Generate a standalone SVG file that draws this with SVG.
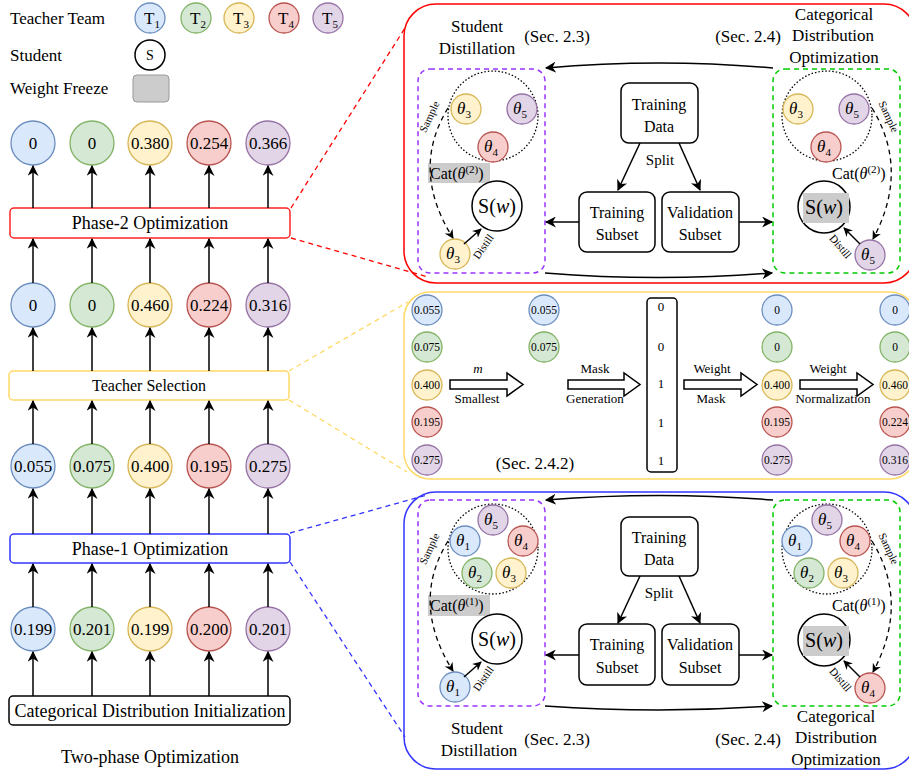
<svg xmlns="http://www.w3.org/2000/svg" width="909" height="772" viewBox="0 0 909 772">
<defs>
<marker id="ah" viewBox="0 0 10 10" refX="9" refY="5" markerWidth="11" markerHeight="11" markerUnits="userSpaceOnUse" orient="auto"><path d="M0,0 L10,5 L0,10 L3,5 Z" fill="#000"/></marker>
<marker id="ahs" viewBox="0 0 10 10" refX="9" refY="5" markerWidth="9" markerHeight="9" markerUnits="userSpaceOnUse" orient="auto"><path d="M0,0 L10,5 L0,10 L3,5 Z" fill="#000"/></marker>
</defs>
<style>
text{font-family:"Liberation Serif","Times New Roman",serif;fill:#000}
.c{text-anchor:middle}
.f17{font-size:17px}
.f18{font-size:18px}
.f16{font-size:16px}
.f15{font-size:15px}
.f13{font-size:13px}
.f12{font-size:11.5px}
.f10{font-size:11px}
.it{font-style:italic}
.b{fill:#dae8fc;stroke:#6c8ebf;stroke-width:1.3}
.g{fill:#d5e8d4;stroke:#82b366;stroke-width:1.3}
.y{fill:#fff2cc;stroke:#d6b656;stroke-width:1.3}
.r{fill:#f8cecc;stroke:#b85450;stroke-width:1.3}
.p{fill:#e1d5e7;stroke:#9673a6;stroke-width:1.3}
.ln{fill:none;stroke:#000;stroke-width:1.5;marker-end:url(#ah)}
.lns{fill:none;stroke:#000;stroke-width:1.5;marker-end:url(#ahs)}
.dsh{fill:none;stroke:#000;stroke-width:1.3;stroke-dasharray:5,4;marker-end:url(#ahs)}
.box{fill:#fff;stroke:#000;stroke-width:1.5}
.dot{fill:none;stroke:#000;stroke-width:1.3;stroke-dasharray:1.5,2}
.pur{fill:none;stroke:#9933ff;stroke-width:1.5;stroke-dasharray:5,4}
.grn{fill:none;stroke:#00cc00;stroke-width:1.5;stroke-dasharray:5,4}
.sw{fill:#fff;stroke:#000;stroke-width:1.5}
.gr{fill:#cccccc;stroke:none}
.cat{font-size:16px}
</style>

<!-- Legend -->
<g id="legend">
<text x="10" y="24" class="f17">Teacher Team</text>
<text x="10" y="61" class="f17">Student</text>
<text x="10" y="94" class="f17">Weight Freeze</text>
<circle cx="150" cy="18" r="15" class="b"/><text x="152" y="24" class="f17 c">T<tspan font-size="11" dy="4">1</tspan></text>
<circle cx="196" cy="18" r="15" class="g"/><text x="198" y="24" class="f17 c">T<tspan font-size="11" dy="4">2</tspan></text>
<circle cx="239" cy="18" r="15" class="y"/><text x="241" y="24" class="f17 c">T<tspan font-size="11" dy="4">3</tspan></text>
<circle cx="284" cy="18" r="15" class="r"/><text x="286" y="24" class="f17 c">T<tspan font-size="11" dy="4">4</tspan></text>
<circle cx="328" cy="18" r="15" class="p"/><text x="330" y="24" class="f17 c">T<tspan font-size="11" dy="4">5</tspan></text>
<circle cx="150" cy="55" r="15" fill="#fff" stroke="#000" stroke-width="1.5"/><text x="150" y="60" font-size="14" class="c">S</text>
<rect x="133" y="75" width="36" height="27" rx="4" fill="#cccccc" stroke="#999" stroke-width="1"/>
</g>

<!-- Left column boxes -->
<g id="phase2"><rect x="10" y="208" width="280" height="30" rx="4" fill="#fff" stroke="#ff2222" stroke-width="1.5"/><text x="150" y="229" class="f18 c">Phase-2 Optimization</text></g>
<g id="teacher-selection"><rect x="9" y="371" width="280" height="29" rx="4" fill="#fff" stroke="#ffd966" stroke-width="1.5"/><text x="149" y="391" class="f16 c">Teacher Selection</text></g>
<g id="phase1"><rect x="10" y="534" width="280" height="29" rx="4" fill="#fff" stroke="#3333ff" stroke-width="1.5"/><text x="150" y="555" class="f18 c">Phase-1 Optimization</text></g>
<g id="init"><rect x="9" y="696" width="281" height="29" rx="4" class="box"/><text x="150" y="717" class="f18 c">Categorical Distribution Initialization</text></g>
<text x="150" y="763" class="f18 c">Two-phase Optimization</text>

<!-- Left column circles -->
<g id="row-final">
<circle cx="33" cy="143" r="22" class="b"/><text x="33" y="149" class="f17 c">0</text>
<circle cx="92" cy="143" r="22" class="g"/><text x="92" y="149" class="f17 c">0</text>
<circle cx="150" cy="143" r="22" class="y"/><text x="150" y="149" class="f17 c">0.380</text>
<circle cx="209" cy="143" r="22" class="r"/><text x="209" y="149" class="f17 c">0.254</text>
<circle cx="268" cy="143" r="22" class="p"/><text x="268" y="149" class="f17 c">0.366</text>
</g>
<g id="row-selected">
<circle cx="33" cy="305" r="22" class="b"/><text x="33" y="311" class="f17 c">0</text>
<circle cx="92" cy="305" r="22" class="g"/><text x="92" y="311" class="f17 c">0</text>
<circle cx="150" cy="305" r="22" class="y"/><text x="150" y="311" class="f17 c">0.460</text>
<circle cx="209" cy="305" r="22" class="r"/><text x="209" y="311" class="f17 c">0.224</text>
<circle cx="268" cy="305" r="22" class="p"/><text x="268" y="311" class="f17 c">0.316</text>
</g>
<g id="row-phase1">
<circle cx="33" cy="466" r="22" class="b"/><text x="33" y="472" class="f17 c">0.055</text>
<circle cx="92" cy="466" r="22" class="g"/><text x="92" y="472" class="f17 c">0.075</text>
<circle cx="150" cy="466" r="22" class="y"/><text x="150" y="472" class="f17 c">0.400</text>
<circle cx="209" cy="466" r="22" class="r"/><text x="209" y="472" class="f17 c">0.195</text>
<circle cx="268" cy="466" r="22" class="p"/><text x="268" y="472" class="f17 c">0.275</text>
</g>
<g id="row-init">
<circle cx="33" cy="629" r="22" class="b"/><text x="33" y="635" class="f17 c">0.199</text>
<circle cx="92" cy="629" r="22" class="g"/><text x="92" y="635" class="f17 c">0.201</text>
<circle cx="150" cy="629" r="22" class="y"/><text x="150" y="635" class="f17 c">0.199</text>
<circle cx="209" cy="629" r="22" class="r"/><text x="209" y="635" class="f17 c">0.200</text>
<circle cx="268" cy="629" r="22" class="p"/><text x="268" y="635" class="f17 c">0.201</text>
</g>

<!-- Panels -->
<g id="panel-phase2">
<rect x="404" y="4" width="512" height="279" rx="32" fill="none" stroke="#ff0000" stroke-width="1.5"/>
<text x="477" y="32" class="f17 c">Student</text>
<text x="477" y="54" class="f17 c">Distillation</text>
<text x="557" y="42" class="f17 c">(Sec. 2.3)</text>
<text x="748" y="42" class="f17 c">(Sec. 2.4)</text>
<text x="834" y="20" class="f17 c">Categorical</text>
<text x="833" y="41" class="f17 c">Distribution</text>
<text x="834" y="63" class="f17 c">Optimization</text>
</g>
<g id="p2-student" >
<rect x="418" y="69" width="127" height="204" rx="12" class="pur"/>
<circle cx="493" cy="116" r="45" class="dot"/>
<circle cx="466" cy="109" r="15" class="y"/><text x="464" y="114" class="f17 c it">θ<tspan font-size="11" font-style="normal" dy="4">3</tspan></text>
<circle cx="522" cy="109" r="15" class="p"/><text x="520" y="114" class="f17 c it">θ<tspan font-size="11" font-style="normal" dy="4">5</tspan></text>
<circle cx="493" cy="147" r="15" class="r"/><text x="491" y="152" class="f17 c it">θ<tspan font-size="11" font-style="normal" dy="4">4</tspan></text>
<rect x="428" y="163" width="62" height="20" class="gr"/>
<text x="430" y="179" class="cat">Cat(<tspan class="it">θ</tspan><tspan font-size="11" dy="-6">(2)</tspan><tspan dy="6">)</tspan></text>
<circle cx="497" cy="206" r="25" class="sw"/><text x="497" y="213" font-size="20" class="c">S(<tspan class="it">w</tspan>)</text>
<circle cx="455" cy="254" r="15" class="y"/><text x="453" y="259" class="f17 c it">θ<tspan font-size="11" font-style="normal" dy="4">3</tspan></text>
<text x="430" y="120" class="f10 c" transform="rotate(-65 430 117)">Sample</text>
<text x="484" y="250" class="f10 c" transform="rotate(-55 484 247)">Distill</text>
</g>
<g id="p2-data">
<rect x="621" y="83" width="77" height="60" rx="8" class="box"/><text x="659" y="110" class="f16 c">Training</text><text x="659" y="132" class="f16 c">Data</text>
<rect x="579" y="192" width="76" height="60" rx="8" class="box"/><text x="617" y="218" class="f16 c">Training</text><text x="617" y="240" class="f16 c">Subset</text>
<rect x="662" y="192" width="77" height="60" rx="8" class="box"/><text x="700" y="218" class="f16 c">Validation</text><text x="700" y="240" class="f16 c">Subset</text>
<text x="660" y="165" class="f15 c">Split</text>
</g>
<g id="p2-cat">
<rect x="773" y="69" width="127" height="204" rx="12" class="grn"/>
<circle cx="827" cy="116" r="45" class="dot"/>
<circle cx="798" cy="109" r="15" class="y"/><text x="796" y="114" class="f17 c it">θ<tspan font-size="11" font-style="normal" dy="4">3</tspan></text>
<circle cx="854" cy="109" r="15" class="p"/><text x="852" y="114" class="f17 c it">θ<tspan font-size="11" font-style="normal" dy="4">5</tspan></text>
<circle cx="826" cy="147" r="15" class="r"/><text x="824" y="152" class="f17 c it">θ<tspan font-size="11" font-style="normal" dy="4">4</tspan></text>
<text x="832" y="179" class="cat">Cat(<tspan class="it">θ</tspan><tspan font-size="11" dy="-6">(2)</tspan><tspan dy="6">)</tspan></text>
<circle cx="824" cy="207" r="26" class="sw"/><rect x="803" y="193" width="46" height="30" class="gr"/><text x="824" y="214" font-size="20" class="c">S(<tspan class="it">w</tspan>)</text>
<circle cx="870" cy="255" r="15" class="p"/><text x="868" y="260" class="f17 c it">θ<tspan font-size="11" font-style="normal" dy="4">5</tspan></text>
<text x="888" y="120" class="f10 c" transform="rotate(65 888 117)">Sample</text>
<text x="840" y="250" class="f10 c" transform="rotate(50 840 247)">Distill</text>
</g>

<g id="panel-selection">
<rect x="404" y="292" width="512" height="187" rx="26" fill="none" stroke="#ffd966" stroke-width="1.5"/>
<text x="535" y="469" class="f17 c">(Sec. 2.4.2)</text>
</g>
<g id="sel-col1">
<circle cx="427" cy="310" r="15" class="b"/><text x="427" y="314" class="f12 c">0.055</text>
<circle cx="427" cy="347" r="15" class="g"/><text x="427" y="351" class="f12 c">0.075</text>
<circle cx="427" cy="385" r="15" class="y"/><text x="427" y="389" class="f12 c">0.400</text>
<circle cx="427" cy="422" r="15" class="r"/><text x="427" y="426" class="f12 c">0.195</text>
<circle cx="427" cy="460" r="15" class="p"/><text x="427" y="464" class="f12 c">0.275</text>
</g>
<g id="sel-col2">
<circle cx="544" cy="310" r="15" class="b"/><text x="544" y="314" class="f12 c">0.055</text>
<circle cx="544" cy="347" r="15" class="g"/><text x="544" y="351" class="f12 c">0.075</text>
</g>
<g id="sel-mask">
<rect x="647" y="298" width="30" height="174" rx="4" class="box"/>
<text x="661" y="311" class="f13 c">0</text>
<text x="661" y="351" class="f13 c">0</text>
<text x="661" y="388" class="f13 c">1</text>
<text x="661" y="427" class="f13 c">1</text>
<text x="661" y="465" class="f13 c">1</text>
</g>
<g id="sel-col4">
<circle cx="777" cy="310" r="15" class="b"/><text x="777" y="314" class="f12 c">0</text>
<circle cx="777" cy="347" r="15" class="g"/><text x="777" y="351" class="f12 c">0</text>
<circle cx="777" cy="385" r="15" class="y"/><text x="777" y="389" class="f12 c">0.400</text>
<circle cx="777" cy="422" r="15" class="r"/><text x="777" y="426" class="f12 c">0.195</text>
<circle cx="777" cy="460" r="15" class="p"/><text x="777" y="464" class="f12 c">0.275</text>
</g>
<g id="sel-col5">
<circle cx="895" cy="310" r="15" class="b"/><text x="895" y="314" class="f12 c">0</text>
<circle cx="895" cy="347" r="15" class="g"/><text x="895" y="351" class="f12 c">0</text>
<circle cx="895" cy="385" r="15" class="y"/><text x="895" y="389" class="f12 c">0.460</text>
<circle cx="895" cy="422" r="15" class="r"/><text x="895" y="426" class="f12 c">0.224</text>
<circle cx="895" cy="460" r="15" class="p"/><text x="895" y="464" class="f12 c">0.316</text>
</g>

<g id="panel-phase1">
<rect x="404" y="492" width="512" height="277" rx="32" fill="none" stroke="#3333ff" stroke-width="1.5"/>
<text x="477" y="734" class="f17 c">Student</text>
<text x="479" y="756" class="f17 c">Distillation</text>
<text x="557" y="745" class="f17 c">(Sec. 2.3)</text>
<text x="748" y="745" class="f17 c">(Sec. 2.4)</text>
<text x="836" y="722" class="f17 c">Categorical</text>
<text x="836" y="743" class="f17 c">Distribution</text>
<text x="836" y="765" class="f17 c">Optimization</text>
</g>
<g id="p1-student">
<rect x="418" y="500" width="127" height="206" rx="12" class="pur"/>
<circle cx="493" cy="549" r="45" class="dot"/>
<circle cx="493" cy="520" r="15" class="p"/><text x="491" y="525" class="f17 c it">θ<tspan font-size="11" font-style="normal" dy="4">5</tspan></text>
<circle cx="465" cy="541" r="15" class="b"/><text x="463" y="546" class="f17 c it">θ<tspan font-size="11" font-style="normal" dy="4">1</tspan></text>
<circle cx="523" cy="541" r="15" class="r"/><text x="521" y="546" class="f17 c it">θ<tspan font-size="11" font-style="normal" dy="4">4</tspan></text>
<circle cx="477" cy="573" r="15" class="g"/><text x="475" y="578" class="f17 c it">θ<tspan font-size="11" font-style="normal" dy="4">2</tspan></text>
<circle cx="511" cy="573" r="15" class="y"/><text x="509" y="578" class="f17 c it">θ<tspan font-size="11" font-style="normal" dy="4">3</tspan></text>
<rect x="428" y="595" width="62" height="21" class="gr"/>
<text x="430" y="611" class="cat">Cat(<tspan class="it">θ</tspan><tspan font-size="11" dy="-6">(1)</tspan><tspan dy="6">)</tspan></text>
<circle cx="497" cy="639" r="25" class="sw"/><text x="497" y="646" font-size="20" class="c">S(<tspan class="it">w</tspan>)</text>
<circle cx="455" cy="687" r="15" class="b"/><text x="453" y="692" class="f17 c it">θ<tspan font-size="11" font-style="normal" dy="4">1</tspan></text>
<text x="430" y="552" class="f10 c" transform="rotate(-65 430 549)">Sample</text>
<text x="484" y="682" class="f10 c" transform="rotate(-55 484 679)">Distill</text>
</g>
<g id="p1-data">
<rect x="621" y="517" width="77" height="59" rx="8" class="box"/><text x="659" y="543" class="f16 c">Training</text><text x="659" y="565" class="f16 c">Data</text>
<rect x="579" y="624" width="76" height="61" rx="8" class="box"/><text x="617" y="650" class="f16 c">Training</text><text x="617" y="673" class="f16 c">Subset</text>
<rect x="662" y="624" width="77" height="61" rx="8" class="box"/><text x="700" y="650" class="f16 c">Validation</text><text x="700" y="673" class="f16 c">Subset</text>
<text x="659" y="598" class="f15 c">Split</text>
</g>
<g id="p1-cat">
<rect x="773" y="500" width="127" height="206" rx="12" class="grn"/>
<circle cx="827" cy="549" r="45" class="dot"/>
<circle cx="827" cy="520" r="15" class="p"/><text x="825" y="525" class="f17 c it">θ<tspan font-size="11" font-style="normal" dy="4">5</tspan></text>
<circle cx="797" cy="541" r="15" class="b"/><text x="795" y="546" class="f17 c it">θ<tspan font-size="11" font-style="normal" dy="4">1</tspan></text>
<circle cx="855" cy="541" r="15" class="r"/><text x="853" y="546" class="f17 c it">θ<tspan font-size="11" font-style="normal" dy="4">4</tspan></text>
<circle cx="809" cy="573" r="15" class="g"/><text x="807" y="578" class="f17 c it">θ<tspan font-size="11" font-style="normal" dy="4">2</tspan></text>
<circle cx="843" cy="573" r="15" class="y"/><text x="841" y="578" class="f17 c it">θ<tspan font-size="11" font-style="normal" dy="4">3</tspan></text>
<text x="832" y="611" class="cat">Cat(<tspan class="it">θ</tspan><tspan font-size="11" dy="-6">(1)</tspan><tspan dy="6">)</tspan></text>
<circle cx="824" cy="640" r="26" class="sw"/><rect x="803" y="626" width="46" height="30" class="gr"/><text x="824" y="647" font-size="20" class="c">S(<tspan class="it">w</tspan>)</text>
<circle cx="870" cy="688" r="15" class="r"/><text x="868" y="693" class="f17 c it">θ<tspan font-size="11" font-style="normal" dy="4">4</tspan></text>
<text x="888" y="552" class="f10 c" transform="rotate(65 888 549)">Sample</text>
<text x="840" y="683" class="f10 c" transform="rotate(50 840 680)">Distill</text>
</g>

<!-- Connectors -->
<g id="connectors">
<g>
<path class="ln" d="M33,696 V652"/><path class="ln" d="M92,696 V652"/><path class="ln" d="M150,696 V652"/><path class="ln" d="M209,696 V652"/><path class="ln" d="M268,696 V652"/>
<path class="ln" d="M33,607 V564"/><path class="ln" d="M92,607 V564"/><path class="ln" d="M150,607 V564"/><path class="ln" d="M209,607 V564"/><path class="ln" d="M268,607 V564"/>
<path class="ln" d="M33,534 V489"/><path class="ln" d="M92,534 V489"/><path class="ln" d="M150,534 V489"/><path class="ln" d="M209,534 V489"/><path class="ln" d="M268,534 V489"/>
<path class="ln" d="M33,444 V401"/><path class="ln" d="M92,444 V401"/><path class="ln" d="M150,444 V401"/><path class="ln" d="M209,444 V401"/><path class="ln" d="M268,444 V401"/>
<path class="ln" d="M33,371 V328"/><path class="ln" d="M92,371 V328"/><path class="ln" d="M150,371 V328"/><path class="ln" d="M209,371 V328"/><path class="ln" d="M268,371 V328"/>
<path class="ln" d="M33,283 V239"/><path class="ln" d="M92,283 V239"/><path class="ln" d="M150,283 V239"/><path class="ln" d="M209,283 V239"/><path class="ln" d="M268,283 V239"/>
<path class="ln" d="M33,208 V166"/><path class="ln" d="M92,208 V166"/><path class="ln" d="M150,208 V166"/><path class="ln" d="M209,208 V166"/><path class="ln" d="M268,208 V166"/>
</g>
<path d="M291,208 L405,28" fill="none" stroke="#ff0000" stroke-width="1.3" stroke-dasharray="5,4"/>
<path d="M291,238 L428,277" fill="none" stroke="#ff0000" stroke-width="1.3" stroke-dasharray="5,4"/>
<path d="M289,371 L408,302" fill="none" stroke="#ffd966" stroke-width="1.3" stroke-dasharray="5,4"/>
<path d="M289,400 L407,472" fill="none" stroke="#ffd966" stroke-width="1.3" stroke-dasharray="5,4"/>
<path d="M290,533 L427,495" fill="none" stroke="#3333ff" stroke-width="1.3" stroke-dasharray="5,4"/>
<path d="M290,562 L405,737" fill="none" stroke="#3333ff" stroke-width="1.3" stroke-dasharray="5,4"/>
<path class="ln" d="M773,68 Q659,58 546,68"/>
<path class="ln" d="M545,273 Q659,282 772,273"/>
<path class="ln" d="M579,222 H546"/>
<path class="ln" d="M739,222 H772"/>
<path class="ln" d="M640,143 L618,190"/>
<path class="ln" d="M679,143 L700,190"/>
<path class="dsh" d="M448,108 Q410,170 453,238"/>
<path class="dsh" d="M872,108 Q910,170 873,239"/>
<path class="lns" d="M464,244 L481,229"/>
<path class="lns" d="M860,244 L844,228"/>
<polygon points="450,380 507,380 507,373 523,384.5 507,396 507,389 450,389" fill="#fff" stroke="#000" stroke-width="1.5"/>
<polygon points="568,380 624,380 624,373 640,384.5 624,396 624,389 568,389" fill="#fff" stroke="#000" stroke-width="1.5"/>
<polygon points="684,380 741,380 741,373 757,384.5 741,396 741,389 684,389" fill="#fff" stroke="#000" stroke-width="1.5"/>
<polygon points="800,380 857,380 857,373 873,384.5 857,396 857,389 800,389" fill="#fff" stroke="#000" stroke-width="1.5"/>
<text x="478" y="373" class="f13 c it">m</text>
<text x="477" y="403" class="f13 c">Smallest</text>
<text x="595" y="373" class="f13 c">Mask</text>
<text x="595" y="403" class="f13 c">Generation</text>
<text x="712" y="373" class="f13 c">Weight</text>
<text x="711" y="403" class="f13 c">Mask</text>
<text x="828" y="373" class="f13 c">Weight</text>
<text x="833" y="403" class="f13 c">Normalization</text>
<path class="ln" d="M773,500 Q659,491 546,500"/>
<path class="ln" d="M545,706 Q659,714 772,706"/>
<path class="ln" d="M579,655 H546"/>
<path class="ln" d="M739,655 H772"/>
<path class="ln" d="M640,576 L618,623"/>
<path class="ln" d="M679,576 L700,623"/>
<path class="dsh" d="M448,541 Q410,603 453,671"/>
<path class="dsh" d="M872,541 Q910,603 873,672"/>
<path class="lns" d="M464,677 L481,662"/>
<path class="lns" d="M860,677 L844,661"/>
</g>
</svg>
